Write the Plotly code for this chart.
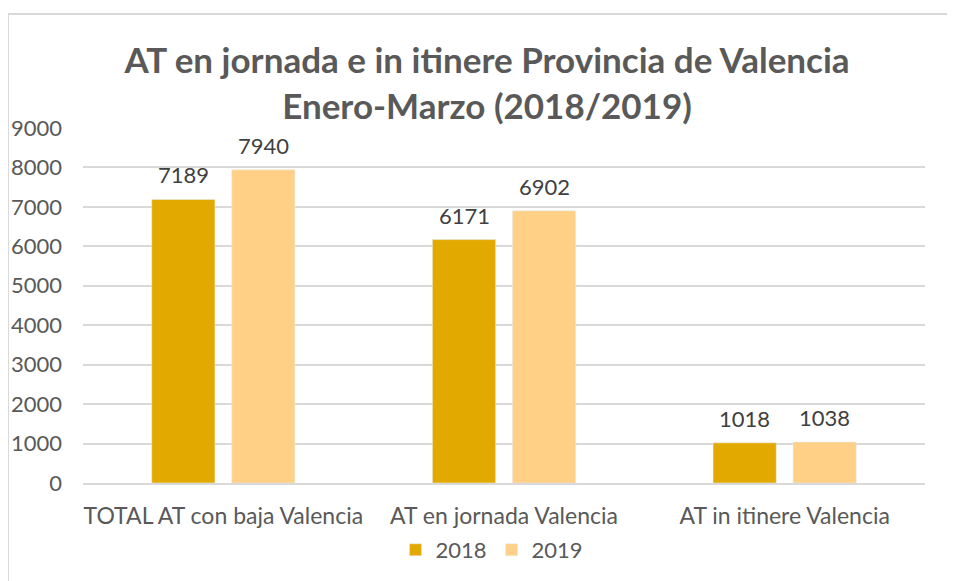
import plotly.graph_objects as go

categories = ["TOTAL AT con baja Valencia", "AT en jornada Valencia", "AT in itinere Valencia"]
values_2018 = [7189, 6171, 1018]
values_2019 = [7940, 6902, 1038]
y_ticks = [0, 1000, 2000, 3000, 4000, 5000, 6000, 7000, 8000, 9000]

FONT = "Lato"
GRAY = "#595959"

# page body adds an 8px margin, so the figure is a bit smaller than the window
W, H = 947, 573
L, R, T, B = 75, 30, 120, 98
pw, ph = W - L - R, H - T - B

fig = go.Figure()
fig.add_trace(go.Bar(x=categories, y=values_2018, name="2018", marker_color="#E2AA00"))
fig.add_trace(go.Bar(x=categories, y=values_2019, name="2019", marker_color="#FFD086"))

# data labels above each bar (bar slot is ~80px wide, so offset by half of it)
for vals, shift in [(values_2018, -40), (values_2019, 40)]:
    for cat, v in zip(categories, vals):
        fig.add_annotation(x=cat, y=v, text=str(v), showarrow=False, xshift=shift,
                           yanchor="bottom", yshift=9,
                           font=dict(size=22, color="#404040", family=FONT))

fig.update_layout(
    width=W, height=H,
    margin=dict(l=L, r=R, t=T, b=B, autoexpand=False),
    paper_bgcolor="white", plot_bgcolor="white",
    font=dict(family=FONT, color=GRAY, size=22),
    title=dict(text="<b>AT en jornada e in itinere Provincia de Valencia<br>Enero-Marzo (2018/2019)</b>",
               x=(487 - 8) / W, xanchor="center", y=1 - 65 / H, yanchor="middle",
               font=dict(size=35, color=GRAY, family=FONT)),
    barmode="group", bargap=0.43, bargroupgap=0.21,
    legend=dict(orientation="h", x=(492 - 8) / W, xanchor="center", xref="container",
                y=31 / H, yanchor="middle", yref="container",
                font=dict(size=22, color=GRAY), itemwidth=30),
    showlegend=True,
)
fig.update_yaxes(range=[0, 9000], tickvals=y_ticks, showgrid=True, gridcolor="#D9D9D9",
                 gridwidth=2, zeroline=False, showline=False, ticklabelstandoff=20,
                 automargin=False)
fig.update_xaxes(showline=True, linecolor="#D9D9D9", linewidth=2, ticklabelstandoff=11,
                 tickfont=dict(size=23), automargin=False)

# outer chart frame
fig.add_shape(type="rect", xref="paper", yref="paper",
              x0=-L / pw, x1=(W + 10 - L) / pw,
              y0=-(B + 10) / ph, y1=1 + (T - 6) / ph,
              line=dict(color="#D9D9D9", width=2), layer="below")

fig.write_html("out.html")
